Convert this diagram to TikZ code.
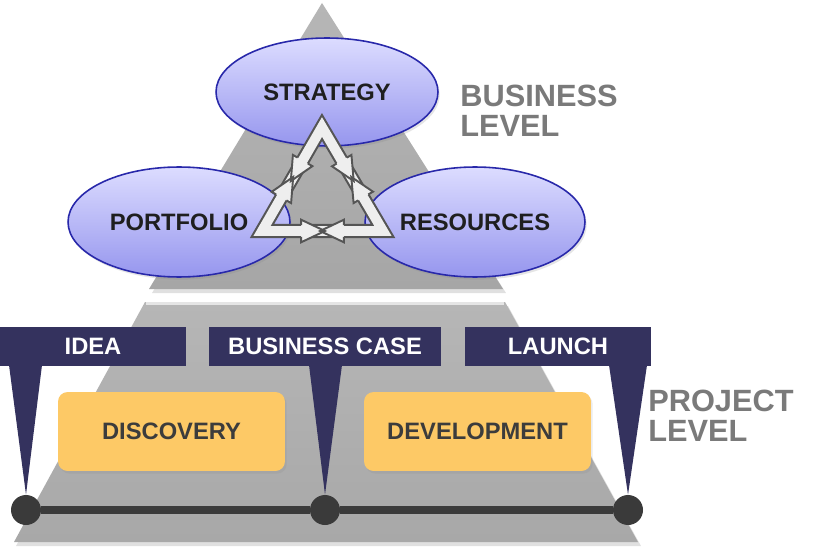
\documentclass[tikz,border=0pt]{standalone}
\usepackage{fontspec}
\setmainfont{Liberation Sans}
\usetikzlibrary{calc,shapes.geometric,shadows}
\definecolor{navybar}{RGB}{52,50,94}
\definecolor{yelbox}{RGB}{253,201,102}
\definecolor{dotgray}{RGB}{58,58,58}
\definecolor{lvlgray}{RGB}{122,122,122}
\definecolor{pyrgray}{RGB}{166,166,166}
\definecolor{traptop}{RGB}{182,182,182}
\definecolor{trapbot}{RGB}{168,168,168}
\definecolor{elltop}{RGB}{220,220,255}
\definecolor{ellbot}{RGB}{150,150,238}
\definecolor{ellline}{RGB}{40,40,170}
\definecolor{arrfill}{RGB}{238,238,238}
\definecolor{arrline}{RGB}{85,85,85}
\definecolor{boxtext}{RGB}{60,60,60}
\tikzset{
  lblfont/.style={font=\fontsize{13.5}{15}\selectfont\bfseries},
  ellnode/.style={ellipse, draw=ellline, line width=0.9pt, top color=elltop, bottom color=ellbot,
    inner sep=0pt, lblfont, text=black!88,
    drop shadow={opacity=0.2, shadow xshift=1pt, shadow yshift=-1.5pt}},
  barnode/.style={fill=navybar, inner sep=0pt, minimum height=0.78cm, lblfont, text=white},
  phasebox/.style={fill=yelbox, rounded corners=5.5pt, minimum width=4.54cm, minimum height=1.58cm,
    inner sep=0pt, lblfont, text=boxtext,
    drop shadow={opacity=0.15, shadow xshift=1pt, shadow yshift=-1.5pt}},
  milestone/.style={circle, fill=dotgray, minimum size=0.6cm, inner sep=0pt},
  spike/.style={fill=navybar},
  lvltext/.style={font=\fontsize{17.5}{17}\selectfont\bfseries, text=lvlgray, align=left,
    anchor=north west, inner sep=0pt},
}
\begin{document}
\begin{tikzpicture}[x=0.02cm,y=-0.02cm]
\useasboundingbox (0,0) rectangle (820,550);
\fill[white] (0,0) rectangle (820,550);

% pyramid shadows
\fill[black,opacity=0.12] (324,7) -- (152,293) -- (506,293) -- cycle;
\fill[black,opacity=0.12] (147,306) -- (508,306) -- (641,546) -- (16,546) -- cycle;
% business-level triangle
\coordinate (apex) at (322,3);
\coordinate (tbl) at (149,289);
\coordinate (tbr) at (503,289);
\shade[top color=traptop, bottom color=pyrgray] (apex) -- (tbl) -- (tbr) -- cycle;
% project-level trapezoid
\shade[top color=traptop, bottom color=trapbot] (145,302) -- (505,302) -- (638,542) -- (14,542) -- cycle;
\draw[white!80!gray, line width=1.4pt] (146,303.5) -- (504,303.5);

% ellipses
\node[ellnode, minimum width=4.44cm, minimum height=2.16cm] (strategy) at (327,92) {STRATEGY};
\node[ellnode, minimum width=4.44cm, minimum height=2.2cm] (portfolio) at (179,222) {PORTFOLIO};
\node[ellnode, minimum width=4.4cm, minimum height=2.2cm] (resources) at (475,222) {RESOURCES};

% cycle of arrows
\coordinate (T) at (322,127);
\coordinate (L) at (262,231);
\coordinate (R) at (383,231);
\draw[arrline, line width=8pt, line join=miter] (T) -- (L) -- (R) -- cycle;
\draw[arrfill, line width=5.6pt, line join=miter] (T) -- (L) -- (R) -- cycle;
\foreach \a/\b in {T/L, L/T, L/R, R/L, R/T, T/R} {
  \coordinate (tp) at ($(\a)!0.52!(\b)$);
  \coordinate (hb) at ($(tp)!13.5pt!(\a)$);
  \fill[arrfill] ($(hb)!6.4pt!90:(tp)$) -- (tp) -- ($(hb)!6.4pt!-90:(tp)$) -- cycle;
}
\foreach \a/\b in {T/L, L/T, L/R, R/L, R/T, T/R} {
  \coordinate (tp) at ($(\a)!0.52!(\b)$);
  \coordinate (hb) at ($(tp)!13.5pt!(\a)$);
  \draw[arrline, line width=1.1pt, line join=miter]
    ($(hb)!3.35pt!90:(tp)$) -- ($(hb)!6.4pt!90:(tp)$) -- (tp)
    -- ($(hb)!6.4pt!-90:(tp)$) -- ($(hb)!3.35pt!-90:(tp)$);
}

% level labels
\node[lvltext] (bizlevel) at (460,85) {BUSINESS\\LEVEL};
\node[lvltext] (projlevel) at (648,390) {PROJECT\\LEVEL};

% phase boxes
\node[phasebox] (discovery) at (171.5,431.5) {DISCOVERY};
\node[phasebox] (development) at (477.5,431.5) {DEVELOPMENT};

% milestone bars and spikes
\node[barnode, minimum width=3.72cm] (idea) at (93,346.5) {IDEA};
\node[barnode, minimum width=4.64cm] (bcase) at (325,346.5) {BUSINESS CASE};
\node[barnode, minimum width=3.72cm] (launch) at (558,346.5) {LAUNCH};

\node[milestone] (d1) at (26,510) {};
\node[milestone] (d2) at (325,510) {};
\node[milestone] (d3) at (628,510) {};

\fill[spike] (9,365) -- (42,365) -- (d1.north) -- cycle;
\fill[spike] (309,365) -- (342,365) -- (d2.north) -- cycle;
\fill[spike] (609,365) -- (647,365) -- (d3.north) -- cycle;

\draw[dotgray, line width=4pt] (d1) -- (d2);
\draw[dotgray, line width=4pt] (d2) -- (d3);
\end{tikzpicture}
\end{document}
